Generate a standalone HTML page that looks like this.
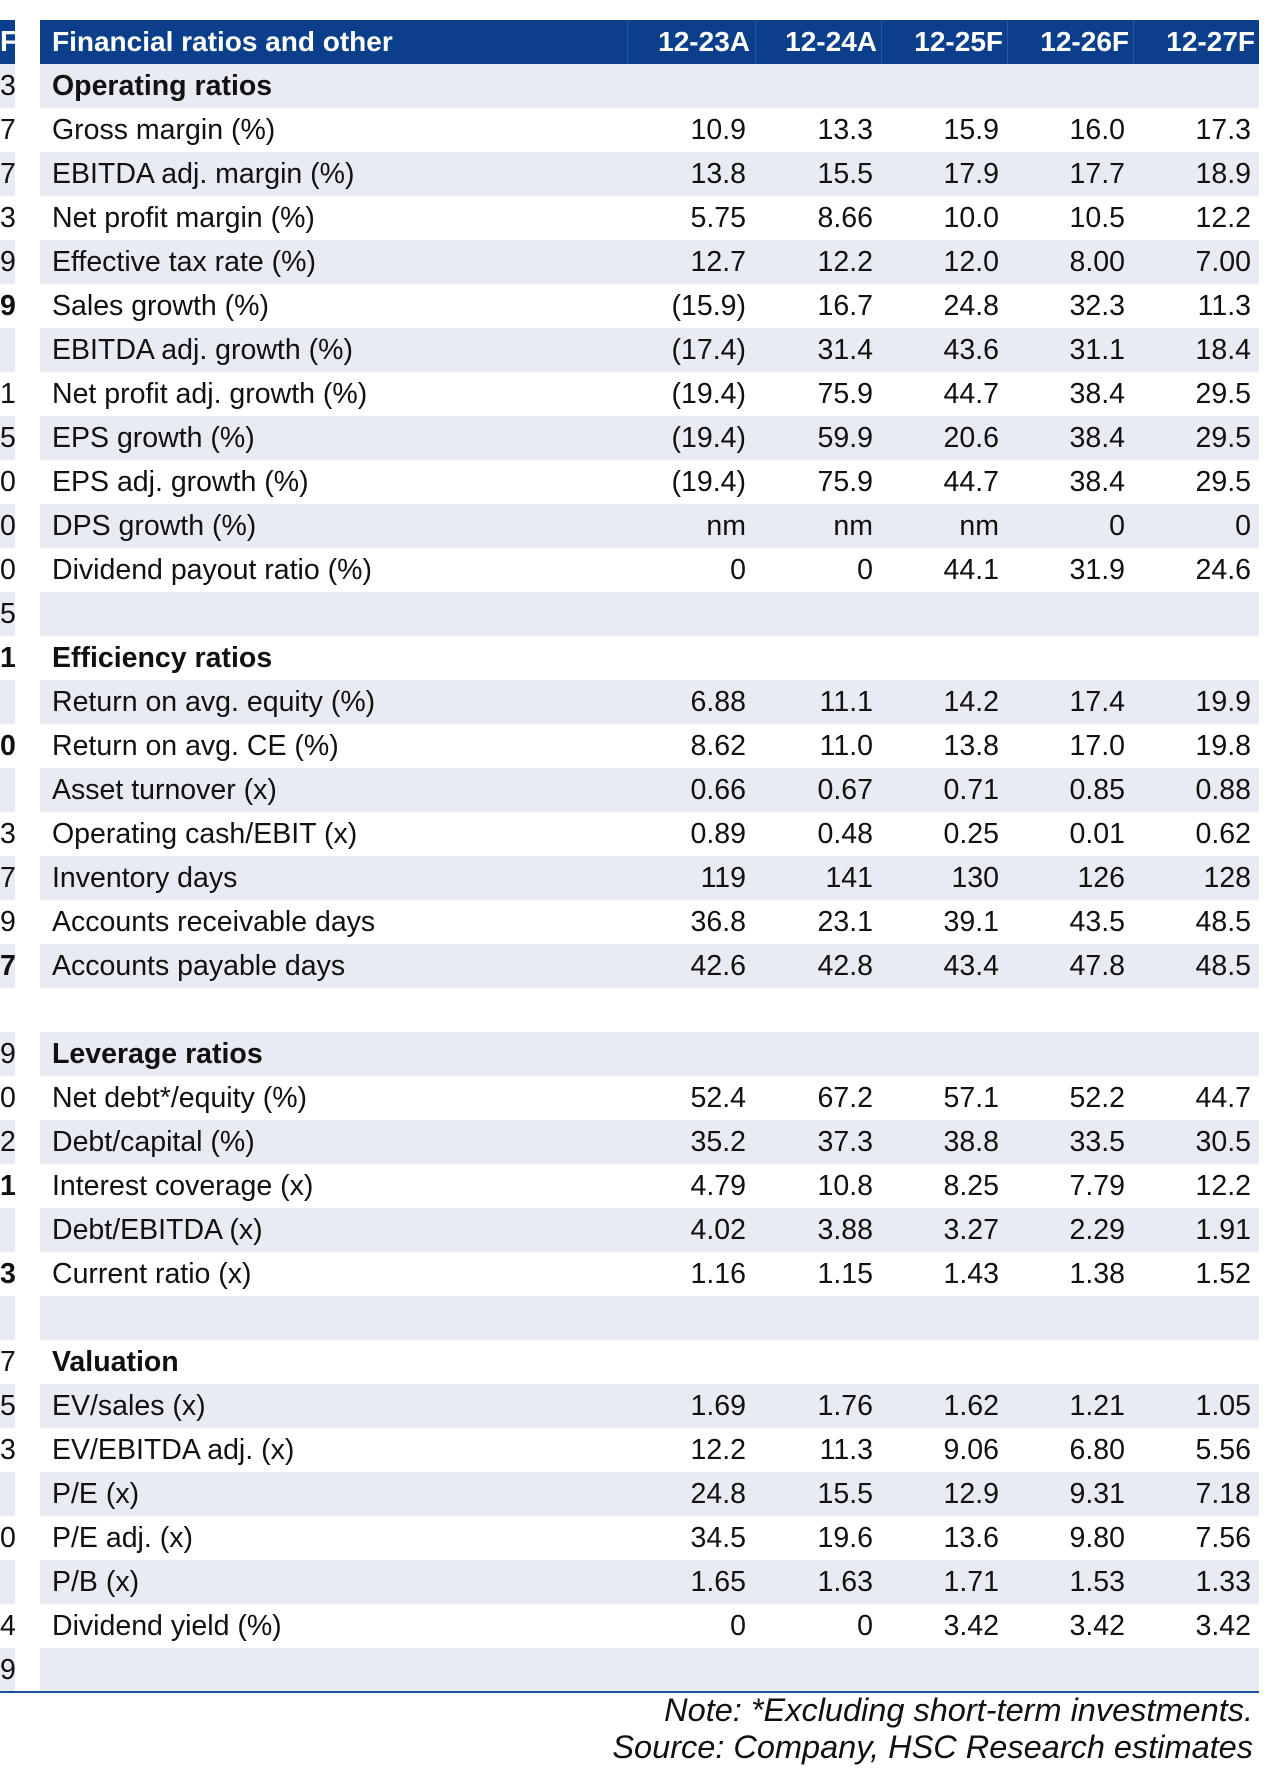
<!DOCTYPE html>
<html><head><meta charset="utf-8"><style>
body{margin:0;width:1284px;height:1786px;background:#fff;font-family:"Liberation Sans",Arial,sans-serif;position:relative;overflow:hidden;color:#111}
.r{position:absolute;left:40px;width:1219px;height:44px}
.g{background:#e9ebf3}
.l{position:absolute;left:0;width:15px;height:44px;text-align:right;font-size:28.5px;line-height:44px;overflow:hidden}
.c{position:absolute;top:0;line-height:44px;font-size:28.5px;white-space:nowrap}
.lab{left:12px}
.v{text-align:right;width:120px}
.hd{background:#0b3f8b;color:#fff;font-weight:bold;height:44px;top:20px}
.b{font-weight:bold}
.sep{position:absolute;top:0;width:1px;height:44px;background:#2a5598}
.note{position:absolute;right:31px;font-size:32.5px;font-style:italic;white-space:nowrap}
</style></head><body>
<div id="t"></div>
<div style="position:absolute;left:0;top:1691px;width:1259px;height:2px;background:#1c4f96"></div>
<div class="note" style="top:1692px">Note: *Excluding short-term investments.</div>
<div class="note" style="top:1729px">Source: Company, HSC Research estimates</div>
<script>
const cols=["12-23A","12-24A","12-25F","12-26F","12-27F"];
const rows=[
["Operating ratios","H"],
["Gross margin (%)",["10.9","13.3","15.9","16.0","17.3"]],
["EBITDA adj. margin (%)",["13.8","15.5","17.9","17.7","18.9"]],
["Net profit margin (%)",["5.75","8.66","10.0","10.5","12.2"]],
["Effective tax rate (%)",["12.7","12.2","12.0","8.00","7.00"]],
["Sales growth (%)",["(15.9)","16.7","24.8","32.3","11.3"]],
["EBITDA adj. growth (%)",["(17.4)","31.4","43.6","31.1","18.4"]],
["Net profit adj. growth (%)",["(19.4)","75.9","44.7","38.4","29.5"]],
["EPS growth (%)",["(19.4)","59.9","20.6","38.4","29.5"]],
["EPS adj. growth (%)",["(19.4)","75.9","44.7","38.4","29.5"]],
["DPS growth (%)",["nm","nm","nm","0","0"]],
["Dividend payout ratio (%)",["0","0","44.1","31.9","24.6"]],
["",null],
["Efficiency ratios","H"],
["Return on avg. equity (%)",["6.88","11.1","14.2","17.4","19.9"]],
["Return on avg. CE (%)",["8.62","11.0","13.8","17.0","19.8"]],
["Asset turnover (x)",["0.66","0.67","0.71","0.85","0.88"]],
["Operating cash/EBIT (x)",["0.89","0.48","0.25","0.01","0.62"]],
["Inventory days",["119","141","130","126","128"]],
["Accounts receivable days",["36.8","23.1","39.1","43.5","48.5"]],
["Accounts payable days",["42.6","42.8","43.4","47.8","48.5"]],
["",null],
["Leverage ratios","H"],
["Net debt*/equity (%)",["52.4","67.2","57.1","52.2","44.7"]],
["Debt/capital (%)",["35.2","37.3","38.8","33.5","30.5"]],
["Interest coverage (x)",["4.79","10.8","8.25","7.79","12.2"]],
["Debt/EBITDA (x)",["4.02","3.88","3.27","2.29","1.91"]],
["Current ratio (x)",["1.16","1.15","1.43","1.38","1.52"]],
["",null],
["Valuation","H"],
["EV/sales (x)",["1.69","1.76","1.62","1.21","1.05"]],
["EV/EBITDA adj. (x)",["12.2","11.3","9.06","6.80","5.56"]],
["P/E (x)",["24.8","15.5","12.9","9.31","7.18"]],
["P/E adj. (x)",["34.5","19.6","13.6","9.80","7.56"]],
["P/B (x)",["1.65","1.63","1.71","1.53","1.33"]],
["Dividend yield (%)",["0","0","3.42","3.42","3.42"]],
["",null]];
const leftDigits=["3","7","7","3","9","9","","1","5","0","0","0","5","1","","0","","3","7","9","7","","9","0","2","1","","3","","7","5","3","","0","","4","9"];
const boldLeft=[5,13,15,20,25,27,32,34];
const t=document.getElementById('t');
const valRight=[746,873,999,1125,1251];
function x(i){return valRight[i]-40-120;}
const top0=20,rh=44;
let h=document.createElement('div');h.className='r hd';


h.innerHTML='<span class="c lab" style="font-size:28px">Financial ratios and other</span>';
[587,715,841,967,1093].forEach(s=>{h.innerHTML+='<div class="sep" style="left:'+s+'px"></div>';});
cols.forEach((c,i)=>{h.innerHTML+='<span class="c v" style="left:'+(x(i)+4)+'px;font-size:28px">'+c+'</span>';});
t.appendChild(h);
let lh=document.createElement('div');lh.className='l';lh.style.top=top0+'px';lh.style.background='#0b3f8b';lh.style.color='#fff';lh.style.fontWeight='bold';lh.textContent='F';


t.appendChild(lh);
rows.forEach((r,k)=>{
 const i=k+1;const y=top0+i*rh;
 const d=document.createElement('div');d.className='r'+(i%2?' g':'');d.style.top=y+'px';
 
 
 d.innerHTML='<span class="c lab'+(r[1]==='H'?' b':'')+'">'+r[0]+'</span>';
 if(Array.isArray(r[1]))r[1].forEach((v,j)=>{d.innerHTML+='<span class="c v" style="left:'+x(j)+'px">'+v+'</span>';});
 t.appendChild(d);
 const l=document.createElement('div');l.className='l'+(i%2?' g':'');l.style.top=y+'px';
 
 
 l.textContent=leftDigits[k]||'';if(boldLeft.includes(k))l.style.fontWeight='bold';
 t.appendChild(l);
});
</script>
</body></html>
